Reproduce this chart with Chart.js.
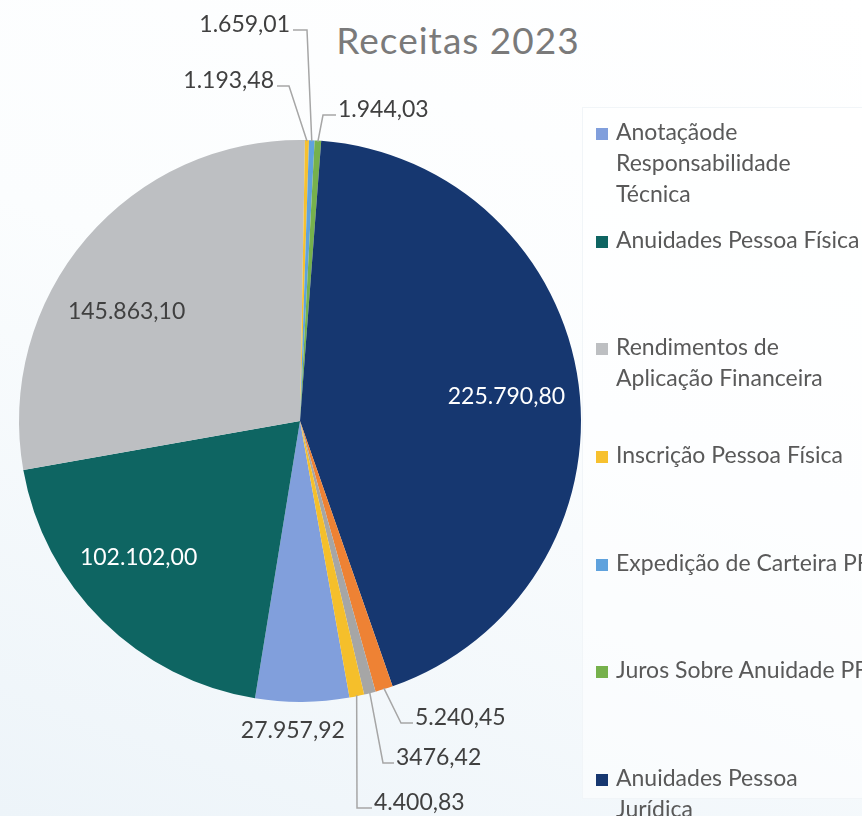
<!DOCTYPE html>
<html lang="pt-BR">
<head>
<meta charset="utf-8">
<title>Receitas 2023</title>
<script src="https://cdn.jsdelivr.net/npm/chart.js@4.4.0/dist/chart.umd.min.js"></script>
<style>
  html, body {
    margin: 0;
    padding: 0;
    width: 862px;
    height: 816px;
    overflow: hidden;
  }
  body {
    position: relative;
    font-family: Lato, "Open Sans", sans-serif;
    background: linear-gradient(200deg, #ffffff 0%, #fbfdfe 45%, #edf4f9 100%);
  }
  #grafico {
    position: absolute;
    left: 0;
    top: 0;
  }
  #titulo {
    position: absolute;
    left: 258px;
    width: 400px;
    top: 17px;
    text-align: center;
    font-size: 37px;
    letter-spacing: 1px;
    color: #7a7a7a;
  }
  #caixa-legenda {
    position: absolute;
    left: 582px;
    top: 107px;
    width: 300px;
    height: 690px;
    background: rgba(255, 255, 255, 0.5);
    border: 1px solid #f1f5f8;
  }
  #legenda {
    position: absolute;
    left: 596px;
    top: 116px;
    margin: 0;
    padding: 0;
    list-style: none;
    font-size: 23px;
    line-height: 31px;
    color: #595959;
    white-space: nowrap;
  }
  #legenda li {
    position: relative;
    height: 107.7px;
    padding-left: 20px;
  }
  #legenda .marca {
    position: absolute;
    left: 0;
    top: 12px;
    width: 12px;
    height: 12px;
  }
</style>
</head>
<body>
<div id="caixa-legenda"></div>
<div id="titulo">Receitas 2023</div>
<canvas id="grafico" width="862" height="816"></canvas>
<ul id="legenda"></ul>

<script>
// categorias na ordem da planilha (as 3 últimas ficam fora da área visível da legenda)
const categorias = [
  ["Anotaçãode", "Responsabilidade", "Técnica"],
  ["Anuidades Pessoa Física"],
  ["Rendimentos de", "Aplicação Financeira"],
  ["Inscrição Pessoa Física"],
  ["Expedição de Carteira PF"],
  ["Juros Sobre Anuidade PF"],
  ["Anuidades Pessoa", "Jurídica"],
  ["Inscrição Pessoa Jurídica"],
  ["Juros Sobre Anuidade PJ"],
  ["Outras Receitas"]
];

const valores = [27957.92, 102102.00, 145863.10, 1193.48, 1659.01, 1944.03, 225790.80, 5240.45, 3476.42, 4400.83];

// texto dos rótulos como aparece no gráfico
const rotulos = ["27.957,92", "102.102,00", "145.863,10", "1.193,48", "1.659,01", "1.944,03", "225.790,80", "5.240,45", "3476,42", "4.400,83"];

const cores = ["#819fdc", "#0e6562", "#bdbfc2", "#f7c12f", "#5fa2dd", "#76b14c", "#163770", "#ee8234", "#a6a6a6", "#f5bf2b"];

const coresTexto = ["#404040", "#ffffff", "#404040", "#404040", "#404040", "#404040", "#ffffff", "#404040", "#404040", "#404040"];

// onde fica cada rótulo: "dentro" = ao longo do ângulo médio da fatia (k = fração do raio, da = desvio em graus)
// "linha" = fora, com linha de chamada (tx, ty = início do texto em relação ao centro, na linha de base)
const posRotulos = [
  { tipo: "dentro", k: 1.10, da: 1.8 },
  { tipo: "dentro", k: 0.75, da: 5.4 },
  { tipo: "dentro", k: 0.73, da: -8.2 },
  { tipo: "linha", tx: -26, ty: -333, lado: "esq", haste: 12 },
  { tipo: "linha", tx: -10, ty: -389, lado: "esq", haste: 14 },
  { tipo: "linha", tx: 38, ty: -304, lado: "dir", haste: 13 },
  { tipo: "dentro", k: 0.74, da: 0.5 },
  { tipo: "linha", tx: 115, ty: 304, lado: "dir", haste: 12 },
  { tipo: "linha", tx: 96, ty: 344, lado: "dir", haste: 11 },
  { tipo: "linha", tx: 74, ty: 389, lado: "dir", haste: 15 }
];

const fonteRotulo = "23px Lato";

const rotulosPlugin = {
  id: "rotulosPizza",
  afterDatasetsDraw(chart) {
    const ctx = chart.ctx;
    const meta = chart.getDatasetMeta(0);
    ctx.save();
    ctx.font = fonteRotulo;
    ctx.textBaseline = "alphabetic";
    meta.data.forEach(function (arc, i) {
      const p = arc.getProps(["x", "y", "startAngle", "endAngle", "outerRadius"], true);
      const meio = (p.startAngle + p.endAngle) / 2;
      const pos = posRotulos[i];
      ctx.fillStyle = coresTexto[i];
      if (pos.tipo === "dentro") {
        const ang = meio + pos.da * Math.PI / 180;
        const r = p.outerRadius * pos.k;
        const x = p.x + Math.cos(ang) * r;
        const y = p.y + Math.sin(ang) * r;
        ctx.textAlign = "center";
        ctx.fillText(rotulos[i], x, y + 8);
      } else {
        const tx = p.x + pos.tx;
        const ty = p.y + pos.ty;
        const borda = {
          x: p.x + Math.cos(meio) * (p.outerRadius - 1),
          y: p.y + Math.sin(meio) * (p.outerRadius - 1)
        };
        let x0, x1;
        if (pos.lado === "esq") {
          ctx.textAlign = "right";
          x0 = tx + 3;
          x1 = x0 + pos.haste;
        } else {
          ctx.textAlign = "left";
          x0 = tx - 2;
          x1 = x0 - pos.haste;
        }
        ctx.fillText(rotulos[i], tx, ty);
        ctx.strokeStyle = "#a6a6a6";
        ctx.lineWidth = 1.5;
        ctx.beginPath();
        ctx.moveTo(x0, ty - 2);
        ctx.lineTo(x1, ty - 2);
        ctx.lineTo(borda.x, borda.y);
        ctx.stroke();
      }
    });
    ctx.restore();
  }
};

const ctx = document.getElementById("grafico").getContext("2d");

const grafico = new Chart(ctx, {
  type: "pie",
  data: {
    labels: categorias,
    datasets: [
      {
        label: "Receitas 2023",
        data: valores,
        backgroundColor: cores,
        borderWidth: 0
      }
    ]
  },
  options: {
    responsive: false,
    animation: false,
    rotation: 169.85,
    layout: {
      padding: { left: 19, top: 140, right: 281, bottom: 114 }
    },
    plugins: {
      legend: { display: false },
      title: { display: false },
      tooltip: { enabled: false }
    }
  },
  plugins: [rotulosPlugin]
});

// legenda em HTML, uma entrada por categoria
const legenda = document.getElementById("legenda");
categorias.forEach(function (linhas, i) {
  const li = document.createElement("li");
  const marca = document.createElement("span");
  marca.className = "marca";
  marca.style.background = cores[i];
  li.appendChild(marca);
  linhas.forEach(function (linha, j) {
    if (j > 0) li.appendChild(document.createElement("br"));
    li.appendChild(document.createTextNode(linha));
  });
  legenda.appendChild(li);
});
</script>
</body>
</html>
